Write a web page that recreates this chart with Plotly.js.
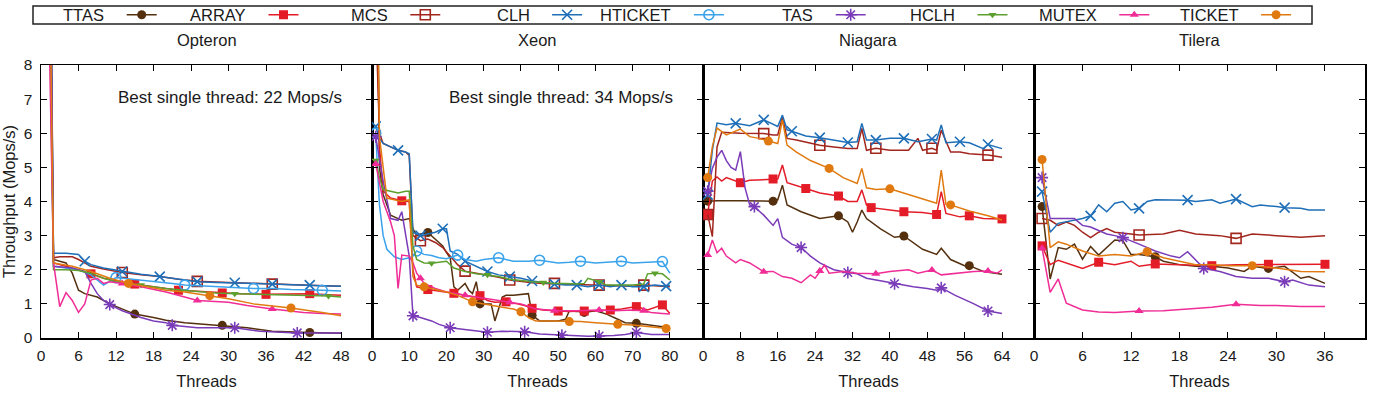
<!DOCTYPE html>
<html><head><meta charset="utf-8">
<script src="https://cdn.plot.ly/plotly-3.0.1.min.js"></script>
<style>html,body{margin:0;padding:0;background:#fff}</style>
</head><body><div id="chart" style="width:1375px;height:402px"></div>
<script>
// ---------- categories / ticks ----------
const seriesNames = ['TTAS','ARRAY','MCS','CLH','HTICKET','TAS','HCLH','MUTEX','TICKET'];
const panelNames = ['Opteron','Xeon','Niagara','Tilera'];
const opteronTicks = [0,6,12,18,24,30,36,42,48];
const xeonTicks = [0,10,20,30,40,50,60,70,80];
const niagaraTicks = [0,8,16,24,32,40,48,56,64];
const tileraTicks = [0,6,12,18,24,30,36];
const yTicks = [0,1,2,3,4,5,6,7,8];
const bestSingle = ['Best single thread: 22 Mops/s','Best single thread: 34 Mops/s'];

// ---------- Opteron (threads, Mops/s) ----------
const optTTASx = [1,2,3,4,5,6,7,9,11,13,15,18,20,23,26,29,33,37,40,43,46,48];
const optTTASy = [22,2.3,2.25,2.2,1.9,1.4,1.3,1.2,1.0,0.85,0.7,0.6,0.52,0.45,0.4,0.37,0.3,0.2,0.17,0.16,0.15,0.14];
const optARRAYx = [1,2,4,6,8,10,12,15,18,22,25,29,32,36,40,43,46,48];
const optARRAYy = [16,2.2,2.1,2.0,1.88,1.75,1.68,1.58,1.5,1.4,1.37,1.32,1.3,1.28,1.28,1.3,1.27,1.25];
const optMCSx = [1,2,3,5,6,7,8,10,13,16,19,22,25,30,34,37,42,45,48];
const optMCSy = [18,2.35,2.38,2.38,2.3,2.2,2.1,2.02,1.92,1.85,1.8,1.72,1.66,1.63,1.6,1.58,1.55,1.53,1.52];
const optCLHx = [1,2,4,6,7,8,10,13,16,19,22,25,28,31,34,37,40,43,46,48];
const optCLHy = [20,2.48,2.48,2.45,2.25,2.15,2.05,1.95,1.87,1.8,1.72,1.65,1.63,1.62,1.6,1.58,1.56,1.55,1.53,1.52];
const optHTICKETx = [1,2,4,6,8,10,12,15,18,21,23,26,30,34,37,40,45,48];
const optHTICKETy = [15,2.1,2.05,2.0,1.85,1.55,1.77,1.72,1.65,1.6,1.55,1.52,1.5,1.45,1.45,1.42,1.4,1.38];
const optTASx = [1,2,5,7,8,9,10,11,13,16,18,20,21,25,28,31,35,38,41,45,48];
const optTASy = [21,2.1,2.05,1.95,1.6,1.3,1.1,0.98,0.8,0.6,0.5,0.45,0.37,0.3,0.3,0.3,0.2,0.17,0.15,0.15,0.15];
const optHCLHx = [1,2,4,6,8,10,12,16,20,24,28,31,36,40,43,46,48];
const optHCLHy = [14,2.0,2.0,1.98,1.9,1.75,1.65,1.55,1.45,1.38,1.32,1.3,1.28,1.26,1.25,1.23,1.2];
const optMUTEXx = [1,2,3,4,5,6,7,8,9,10,11,13,16,20,23,25,30,33,37,42,45,48];
const optMUTEXy = [12,2.2,0.92,1.33,1.1,0.75,1.0,1.7,1.75,1.6,1.65,1.6,1.5,1.35,1.2,1.1,1.05,0.95,0.85,0.75,0.72,0.7];
const optTICKETx = [1,2,5,8,11,14,17,20,23,27,30,34,37,40,43,45,48];
const optTICKETy = [17,2.2,2.1,1.95,1.75,1.6,1.5,1.4,1.35,1.24,1.15,1.0,0.95,0.88,0.8,0.75,0.65];

// ---------- Xeon ----------
const xeoTTASx = [1,2,3,5,7,8,10,11,12,13,15,17,19,20,21,22,23,25,26,27,28,29,30,32,33,35,36,38,42,43,45,48,50,52,53,55,57,60,63,66,68,71,74,77,80];
const xeoTTASy = [16,5.0,4.2,3.6,3.5,3.45,3.5,3.2,3.0,3.05,3.09,2.9,2.7,2.5,2.35,1.5,1.4,1.6,1.4,1.3,1.65,1.0,1.0,1.0,0.5,1.2,1.25,1.25,1.3,0.67,0.5,0.5,0.5,0.55,0.8,0.78,0.75,0.8,0.7,0.55,0.45,0.43,0.38,0.35,0.3];
const xeoARRAYx = [1,2,3,5,8,10,11,12,15,18,20,22,25,27,29,31,33,36,39,41,43,46,50,53,57,60,64,67,71,74,78,80];
const xeoARRAYy = [12,5.6,4.3,4.1,4.02,4.0,2.0,1.5,1.42,1.38,1.35,1.31,1.25,1.2,1.24,1.1,1.05,1.06,1.0,0.95,0.87,0.82,0.79,0.78,0.79,0.8,0.82,0.85,0.92,0.82,0.97,0.72];
const xeoMCSx = [1,2,3,5,7,9,10,11,13,15,17,19,21,23,25,28,31,34,37,40,43,46,49,52,55,58,61,64,67,70,73,76,79,80];
const xeoMCSy = [9.5,6.0,5.7,5.6,5.5,5.45,5.35,3.0,2.85,2.9,2.8,2.65,2.4,2.15,1.96,1.9,1.85,1.78,1.7,1.65,1.62,1.6,1.6,1.58,1.57,1.56,1.55,1.55,1.55,1.52,1.55,1.52,1.5,1.5];
const xeoCLHx = [1,2,3,5,7,9,10,11,13,15,17,19,20,21,23,25,28,31,34,37,40,43,46,49,52,55,58,61,64,67,70,73,76,79,80];
const xeoCLHy = [6.2,5.85,5.7,5.6,5.5,5.45,5.4,3.1,3.0,3.05,3.1,3.2,3.2,2.55,2.45,2.25,2.1,1.95,1.85,1.8,1.75,1.67,1.62,1.58,1.55,1.55,1.5,1.55,1.5,1.55,1.5,1.5,1.55,1.52,1.55];
const xeoHTICKETx = [1,2,3,4,6,8,10,11,12,14,16,18,20,23,25,28,30,34,38,42,45,50,53,56,60,64,67,70,74,78,80];
const xeoHTICKETy = [6.0,3.9,3.0,2.6,2.38,2.3,2.35,2.4,2.55,2.45,2.42,2.35,2.32,2.43,2.3,2.25,2.3,2.35,2.25,2.25,2.28,2.2,2.22,2.25,2.2,2.22,2.25,2.2,2.22,2.24,1.9];
const xeoTASx = [1,2,3,5,7,8,9,10,11,13,16,18,21,25,28,31,35,38,41,45,48,51,55,58,61,65,68,71,75,78,80];
const xeoTASy = [5.9,5.2,4.6,3.5,3.45,3.7,3.0,2.4,0.65,0.6,0.5,0.4,0.3,0.25,0.2,0.17,0.2,0.18,0.18,0.12,0.1,0.08,0.07,0.05,0.06,0.07,0.1,0.16,0.1,0.1,0.1];
const xeoHCLHx = [1,2,3,5,7,9,10,11,12,14,16,18,20,22,25,28,31,34,37,40,43,46,49,52,55,57,58,61,63,66,70,73,74,76,78,80];
const xeoHCLHy = [5.2,4.7,4.35,4.3,4.25,4.3,4.3,2.7,2.3,2.2,2.19,2.22,2.25,2.05,1.95,1.88,1.85,1.8,1.72,1.68,1.65,1.63,1.6,1.6,1.58,1.6,1.75,1.65,1.55,1.55,1.55,1.58,1.88,1.9,1.88,1.7];
const xeoMUTEXx = [1,2,3,5,6,7,8,10,11,12,13,14,17,20,25,28,31,36,37,40,44,49,50,55,60,61,65,70,73,75,78,80];
const xeoMUTEXy = [5.1,4.5,4.0,3.4,3.0,1.45,2.43,2.4,2.2,1.9,1.75,1.6,1.45,1.35,1.25,1.2,1.15,1.05,1.05,1.0,0.85,0.8,0.8,0.8,0.82,0.82,0.8,0.82,0.8,0.75,0.72,0.7];
const xeoTICKETx = [1,2,3,4,6,8,10,11,12,14,17,20,23,27,29,32,35,38,40,42,44,48,52,53,56,60,63,66,70,73,76,79,80];
const xeoTICKETy = [14,5.9,5.0,4.1,4.05,4.0,4.05,1.8,1.55,1.5,1.42,1.35,1.25,1.06,1.02,0.95,0.9,0.85,0.77,0.6,0.5,0.5,0.5,0.48,0.48,0.45,0.42,0.4,0.38,0.35,0.32,0.28,0.27];

// ---------- Niagara ----------
const niaTTASx = [1,3,8,15,16,17,18,21,25,29,31,32,33,34,35,38,41,43,47,50,51,53,56,57,60,64];
const niaTTASy = [4.01,4.02,4.02,4.01,4.05,4.48,3.9,3.7,3.5,3.58,3.4,3.1,3.4,3.75,3.5,3.2,2.95,2.99,2.6,2.45,2.63,2.3,2.12,2.12,1.95,1.87];
const niaARRAYx = [1,2,3,4,5,8,10,13,15,16,17,18,22,25,29,31,33,34,35,36,40,43,47,50,51,52,55,57,60,64];
const niaARRAYy = [3.62,4.6,4.72,4.6,4.7,4.55,4.62,4.65,4.66,4.66,5.07,4.55,4.38,4.25,4.16,4.0,4.0,4.34,3.9,3.82,3.75,3.7,3.68,3.62,4.29,3.65,3.55,3.58,3.5,3.49];
const niaMCSx = [1,2,3,4,8,12,13,15,16,17,18,20,23,25,28,31,33,34,35,37,40,44,46,47,49,50,51,53,55,57,61,64];
const niaMCSy = [3.62,2.97,5.6,6.03,6.0,6.0,5.99,5.95,5.95,6.48,5.85,5.8,5.7,5.65,5.6,5.55,5.55,6.14,5.5,5.56,5.5,5.5,5.85,5.5,5.56,5.5,6.09,5.45,5.45,5.4,5.36,5.3];
const niaCLHx = [1,2,3,5,7,10,13,16,17,18,19,22,25,28,31,33,34,35,37,40,43,46,49,50,51,52,55,57,60,61,63,64];
const niaCLHy = [4.2,5.5,6.3,6.25,6.29,6.22,6.39,6.2,6.53,6.1,6.06,5.92,5.87,5.8,5.73,5.75,6.29,5.8,5.8,5.85,5.85,5.75,5.83,5.8,6.24,5.72,5.75,5.72,5.55,5.67,5.6,5.55];
const niaTASx = [1,2,3,4,5,6,7,8,9,10,11,13,15,16,17,19,21,23,25,28,31,33,35,38,41,45,48,50,51,54,58,61,64];
const niaTASy = [4.3,4.97,5.3,5.5,5.2,5.0,4.92,5.46,4.4,3.9,3.85,3.6,3.3,3.5,2.95,2.75,2.65,2.4,2.2,2.0,1.92,1.88,1.75,1.68,1.59,1.5,1.45,1.4,1.47,1.25,1.0,0.79,0.72];
const niaMUTEXx = [1,2,3,4,5,7,8,10,13,15,17,19,21,23,24,25,26,27,30,33,37,40,44,46,49,51,55,58,61,63,64];
const niaMUTEXy = [2.43,2.87,2.5,2.63,2.4,2.2,2.3,2.2,1.94,1.95,1.8,1.75,1.62,1.85,1.75,1.96,2.14,1.9,1.95,1.9,1.88,1.95,2.0,1.9,1.99,1.85,1.9,1.95,1.96,1.9,2.0];
const niaTICKETx = [1,2,3,5,8,10,12,14,16,17,18,20,23,27,30,33,34,35,37,40,45,49,50,51,52,53,57,61,64];
const niaTICKETy = [4.7,5.6,6.15,5.95,6.12,5.9,5.85,5.77,5.7,6.39,5.65,5.45,5.2,4.97,4.7,4.53,4.97,4.4,4.35,4.37,4.15,3.98,3.95,4.92,3.92,3.9,3.72,3.58,3.46];

// ---------- Tilera ----------
const tilTTASx = [1,2,3,4,5,6,7,8,10,11,12,13,15,16,18,20,22,24,26,27,29,31,33,34,36];
const tilTTASy = [3.85,1.73,2.65,2.6,2.75,2.31,2.68,2.43,2.87,2.85,2.45,2.45,2.38,2.25,2.15,2.1,2.1,2.05,1.95,2.1,2.04,2.1,1.75,1.8,1.6];
const tilARRAYx = [1,2,3,4,6,8,10,12,13,15,18,20,22,25,29,32,36];
const tilARRAYy = [2.7,2.15,2.28,2.2,2.04,2.22,2.15,2.25,2.1,2.17,2.15,2.15,2.12,2.15,2.16,2.15,2.16];
const tilMCSx = [1,2,3,4,5,6,7,8,9,10,12,13,16,18,20,23,25,27,30,33,36];
const tilMCSy = [3.5,3.45,3.3,3.4,3.3,3.1,2.94,3.1,3.21,3.1,3.05,3.02,3.05,3.16,3.05,3.0,2.92,3.05,3.0,2.95,3.0];
const tilCLHx = [1,2,3,4,5,6,7,8,9,10,11,12,13,14,15,17,19,20,22,23,25,27,28,30,31,33,34,36];
const tilCLHy = [4.29,3.1,3.36,3.4,3.45,3.5,3.58,3.9,3.7,3.95,4.0,3.75,3.8,4.0,4.05,4.05,4.04,4.0,4.05,3.95,4.07,3.85,3.9,3.85,3.82,3.8,3.75,3.75];
const tilTASx = [1,2,3,4,5,6,7,8,9,10,11,13,15,17,18,19,20,21,23,25,27,29,31,32,34,36];
const tilTASy = [4.7,3.5,3.5,3.5,3.5,3.3,3.25,3.15,3.05,3.0,2.94,2.75,2.55,2.4,2.35,2.53,2.3,2.04,1.95,1.8,1.75,1.75,1.65,1.7,1.55,1.5];
const tilMUTEXx = [1,2,3,4,6,8,10,13,16,19,22,25,28,30,33,36];
const tilMUTEXy = [2.63,1.34,1.73,1.02,0.82,0.76,0.75,0.79,0.8,0.85,0.9,0.99,0.95,0.95,0.92,0.92];
const tilTICKETx = [1,2,3,4,6,8,10,12,14,16,18,20,22,24,27,30,33,36];
const tilTICKETy = [5.23,2.65,2.82,2.75,2.55,2.4,2.45,2.4,2.53,2.35,2.25,2.15,2.15,2.12,2.12,2.05,1.95,1.94];

// ---------- assemble ----------
const panelData = [
  {TTAS:[optTTASx,optTTASy],ARRAY:[optARRAYx,optARRAYy],MCS:[optMCSx,optMCSy],CLH:[optCLHx,optCLHy],HTICKET:[optHTICKETx,optHTICKETy],TAS:[optTASx,optTASy],HCLH:[optHCLHx,optHCLHy],MUTEX:[optMUTEXx,optMUTEXy],TICKET:[optTICKETx,optTICKETy]},
  {TTAS:[xeoTTASx,xeoTTASy],ARRAY:[xeoARRAYx,xeoARRAYy],MCS:[xeoMCSx,xeoMCSy],CLH:[xeoCLHx,xeoCLHy],HTICKET:[xeoHTICKETx,xeoHTICKETy],TAS:[xeoTASx,xeoTASy],HCLH:[xeoHCLHx,xeoHCLHy],MUTEX:[xeoMUTEXx,xeoMUTEXy],TICKET:[xeoTICKETx,xeoTICKETy]},
  {TTAS:[niaTTASx,niaTTASy],ARRAY:[niaARRAYx,niaARRAYy],MCS:[niaMCSx,niaMCSy],CLH:[niaCLHx,niaCLHy],TAS:[niaTASx,niaTASy],MUTEX:[niaMUTEXx,niaMUTEXy],TICKET:[niaTICKETx,niaTICKETy]},
  {TTAS:[tilTTASx,tilTTASy],ARRAY:[tilARRAYx,tilARRAYy],MCS:[tilMCSx,tilMCSy],CLH:[tilCLHx,tilCLHy],TAS:[tilTASx,tilTASy],MUTEX:[tilMUTEXx,tilMUTEXy],TICKET:[tilTICKETx,tilTICKETy]}
];
const panelTicks = [opteronTicks, xeonTicks, niagaraTicks, tileraTicks];

// ---------- styles ----------
const sty = {
  TTAS:   {color:'#55300f', symbol:'circle',        size:9,  open:false, step:14},
  ARRAY:  {color:'#e41c28', symbol:'square',        size:9,  open:false, step:7},
  MCS:    {color:'#a3261e', symbol:'square-open',   size:10, open:true,  step:12},
  CLH:    {color:'#1e6fb8', symbol:'x-thin-open',   size:10, open:true,  step:6},
  HTICKET:{color:'#3aa3ec', symbol:'circle-open',   size:10, open:true,  step:11},
  TAS:    {color:'#7a3bb8', symbol:'asterisk-open', size:10, open:true,  step:10},
  HCLH:   {color:'#5ca02e', symbol:'triangle-down', size:7,  open:false, step:15},
  MUTEX:  {color:'#f02c96', symbol:'triangle-up',   size:8,  open:false, step:12},
  TICKET: {color:'#e07a10', symbol:'circle',        size:9,  open:false, step:13}
};
const xRanges = [[0,52.96],[0,88.9],[0,70.85],[0,40.95]];
const FONT = 'Liberation Sans, Arial, Helvetica, sans-serif';
const TXT = '#1a1a1a';
const KEY_STEP = 141.8, KEY_FIRST = 141.7;   // px centres of key samples

const traces = [];
panelData.forEach((pd, p) => {
  const ax = p === 0 ? '' : String(p + 1);
  seriesNames.forEach((s, si) => {
    if (!pd[s]) return;
    const [xs, ys] = pd[s];
    const st = sty[s];
    const marked = [];
    xs.forEach((t, i) => { if ((t - 1) % st.step === 0) marked.push(i); });
    const tr = {type:'scatter', mode:'lines+markers', x: xs, y: ys,
      name: ' ', showlegend: p === 0, legendrank: si + 1,
      xaxis:'x'+ax, yaxis:'y'+ax, line:{color: st.color, width:1.5},
      marker:{symbol: st.symbol, size: st.size, color: st.color, opacity:1,
              line:{color: st.color, width: st.open ? 1.6 : 0}},
      selectedpoints: marked, selected:{marker:{opacity:1}}, unselected:{marker:{opacity:0}},
      hoverinfo:'skip'};
    if (p === 0 && si === seriesNames.length - 1) tr.legendwidth = 1;
    traces.push(tr);
  });
});

// ---------- layout ----------
const L = 41, R = 10, T = 65, B = 64, W = 1375, H = 402;
const pw = W - L - R, ph = H - T - B;
const px2x = v => (v - L) / pw;
const py2y = v => (H - B - v) / ph;

const layout = {
  width: W, height: H, margin:{l:L, r:R, t:T, b:B, pad:0, autoexpand:false},
  paper_bgcolor:'#fff', plot_bgcolor:'#fff',
  font:{family: FONT, size:16, color: TXT},
  showlegend: true,
  legend:{orientation:'h', x: px2x(KEY_FIRST - 20), xanchor:'left', y: py2y(15), yanchor:'middle',
          entrywidth: KEY_STEP - 45, entrywidthmode:'pixels', itemwidth:30, bgcolor:'rgba(0,0,0,0)',
          borderwidth:0, font:{size:16.5, family: FONT, color: TXT}, traceorder:'normal', tracegroupgap:0,
          itemsizing:'trace'},
  annotations: [], shapes: []
};

for (let p = 0; p < 4; p++) {
  const ax = p === 0 ? '' : String(p + 1);
  const d0 = p / 4, d1 = (p + 1) / 4;
  layout['xaxis' + ax] = {
    domain:[d0, d1], anchor:'y' + ax, range: xRanges[p], tickmode:'array', tickvals: panelTicks[p],
    ticks:'inside', ticklen:6, tickwidth:1, tickcolor:'#000', mirror:'ticks', showline:true,
    linecolor:'#000', linewidth:1.5, showgrid:false, zeroline:false,
    tickfont:{size:15.5, family: FONT, color: TXT}, ticklabelstandoff: 3,
    title:{text:'Threads', font:{size:16.5, family: FONT, color: TXT}, standoff: 12}
  };
  layout['yaxis' + ax] = {
    domain:[0,1], anchor:'x' + ax, range:[0,8], tickmode:'array', tickvals: yTicks,
    ticks:'inside', ticklen:6, tickwidth:1, tickcolor:'#000', mirror:'ticks', showline:true,
    linecolor:'#000', linewidth:1.5, showgrid:false, zeroline:false,
    showticklabels: p === 0, tickfont:{size:15.5, family: FONT, color: TXT}, ticklabelstandoff: 4,
    title: p === 0 ? {text:'Throughput (Mops/s)', font:{size:16.5, family: FONT, color: TXT}, standoff: 9} : {text:''}
  };
  layout.annotations.push({xref:'paper', yref:'paper', x:(d0 + d1) / 2, y: py2y(40), text: panelNames[p],
    showarrow:false, xanchor:'center', yanchor:'middle', font:{size:16.5, family: FONT, color: TXT}});
}
layout.annotations.push({xref:'x', yref:'y', x:48.4, y:7.05, text: bestSingle[0], showarrow:false,
  xanchor:'right', yanchor:'middle', font:{size:17, family: FONT, color: TXT}});
layout.annotations.push({xref:'x2', yref:'y2', x:81.4, y:7.05, text: bestSingle[1], showarrow:false,
  xanchor:'right', yanchor:'middle', font:{size:17, family: FONT, color: TXT}});
seriesNames.forEach((s, i) => {
  layout.annotations.push({xref:'paper', yref:'paper', x: px2x(KEY_FIRST + KEY_STEP * i - 35.5), y: py2y(15),
    text: s, showarrow:false, xanchor:'right', yanchor:'middle', font:{size:16.5, family: FONT, color: TXT}});
});
layout.shapes.push({type:'rect', xref:'paper', yref:'paper', x0: px2x(33), x1: px2x(1312), y0: py2y(24), y1: py2y(6),
  line:{color:'#222', width:1.5}, fillcolor:'rgba(0,0,0,0)', layer:'above'});

Plotly.newPlot('chart', traces, layout, {staticPlot:true, displayModeBar:false});
</script></body></html>
